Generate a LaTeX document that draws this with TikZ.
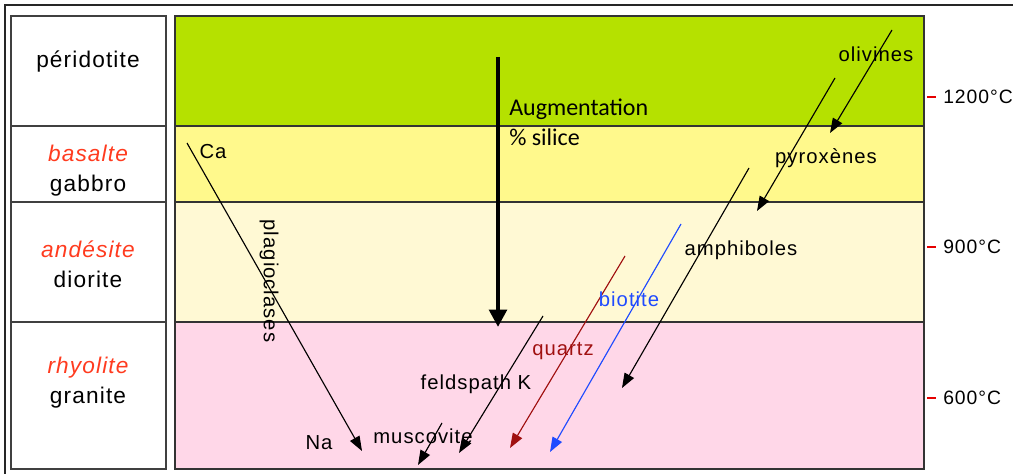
\documentclass[tikz,border=0pt]{standalone}
\usepackage{fontspec}
\setmainfont[LetterSpace=5]{Liberation Sans}
\newfontfamily\calibri{Carlito}
\usetikzlibrary{arrows.meta}
\definecolor{periGreen}{HTML}{B5E100}
\definecolor{basYellow}{HTML}{FFF98C}
\definecolor{andCream}{HTML}{FFF9D4}
\definecolor{rhyPink}{HTML}{FFD7E8}
\definecolor{lavaRed}{HTML}{FF3B1F}
\definecolor{quartzRed}{HTML}{A01010}
\definecolor{biotBlue}{HTML}{1F4BFF}
\begin{document}
\begin{tikzpicture}[x=0.75pt,y=-0.75pt,
    rockBox/.style={draw=black!75,line width=0.9pt},
    zone/.style={draw=black!80,line width=0.8pt},
    rockText/.style={inner sep=0pt,align=center,font=\fontsize{17}{22.5}\selectfont},
    minText/.style={inner sep=0pt,font=\fontsize{15.2}{18}\selectfont},
    tempText/.style={inner sep=0pt,anchor=west,font=\fontsize{14.5}{16}\selectfont},
    minArrow/.style={-{Triangle[length=11pt,width=8pt]},line width=0.85pt},
    tempTick/.style={red!90!black,line width=0.8pt},
]
\useasboundingbox (0,0) rectangle (1013,474);
\draw[line width=1.6pt,black!85] (5,474) -- (5,5) -- (1013,5);
% rock column
\draw[rockBox] (11,16) rectangle (166,126);
\draw[rockBox] (11,126) rectangle (166,202);
\draw[rockBox] (11,202) rectangle (166,322);
\draw[rockBox] (11,322) rectangle (166,469);
\node[rockText] (peri) at (88,62) {péridotite};
\node[rockText] (basa) at (88,171) {\textcolor{lavaRed}{\itshape basalte}\\gabbro};
\node[rockText] (ande) at (88,264) {\textcolor{lavaRed}{\itshape andésite}\\diorite};
\node[rockText] (rhyo) at (88,383) {\textcolor{lavaRed}{\itshape rhyolite}\\granite};
% zones
\draw[zone,fill=periGreen] (175,16) rectangle (924,126);
\draw[zone,fill=basYellow] (175,126) rectangle (924,202);
\draw[zone,fill=andCream] (175,202) rectangle (924,322);
\draw[zone,fill=rhyPink] (175,322) rectangle (924,469);
% temperatures
\draw[tempTick] (927,97) -- (936,97);
\draw[tempTick] (927,247) -- (936,247);
\draw[tempTick] (927,398) -- (936,398);
\node[tempText] (t1200) at (943,97) {1200°C};
\node[tempText] (t900) at (943,247) {900°C};
\node[tempText] (t600) at (943,398) {600°C};
% silica
\coordinate (siTop) at (498,57);
\coordinate (siBot) at (498,327);
\draw[-{Triangle[length=13pt,width=13pt]},line width=3.6pt] (siTop) -- (siBot);
\node[inner sep=0pt,anchor=north west,align=left,font=\calibri\fontsize{18}{22.5}\selectfont] (silice) at (509,99) {Augmentation\\\% silice};
% mineral series
\coordinate (plS) at (187,143); \coordinate (plE) at (362,451);
\coordinate (olS) at (892,30);  \coordinate (olE) at (830,133);
\coordinate (pyS) at (835,78);  \coordinate (pyE) at (757,211);
\coordinate (amS) at (749,168); \coordinate (amE) at (622,388);
\coordinate (biS) at (681,224); \coordinate (biE) at (550,452);
\coordinate (quS) at (625,256); \coordinate (quE) at (510,448);
\coordinate (feS) at (543,316); \coordinate (feE) at (459,453);
\coordinate (muS) at (442,423); \coordinate (muE) at (418,465);
\draw[minArrow] (plS) -- (plE);
\draw[minArrow] (olS) -- (olE);
\draw[minArrow] (pyS) -- (pyE);
\draw[minArrow] (amS) -- (amE);
\draw[minArrow,draw=biotBlue,fill=biotBlue] (biS) -- (biE);
\draw[minArrow,draw=quartzRed,fill=quartzRed] (quS) -- (quE);
\draw[minArrow] (feS) -- (feE);
\draw[minArrow] (muS) -- (muE);
\node[minText] (ca) at (213,152) {Ca};
\node[minText] (na) at (319,443) {Na};
\node[minText,rotate=-90] (plag) at (269,281) {plagioclases};
\node[minText] (oliv) at (876,54) {olivines};
\node[minText] (pyro) at (826,158) {pyroxènes};
\node[minText] (amph) at (741,250) {amphiboles};
\node[minText,text=biotBlue] (biot) at (629,299) {biotite};
\node[minText,text=quartzRed] (quar) at (563,351) {quartz};
\node[minText] (feld) at (476,384) {feldspath K};
\node[minText] (musc) at (423,436) {muscovite};
\end{tikzpicture}
\end{document}
